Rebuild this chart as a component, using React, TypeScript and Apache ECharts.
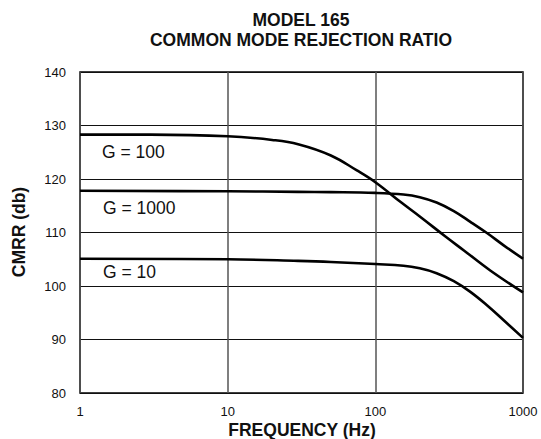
import React, { useEffect, useRef } from "react";
import * as echarts from "echarts";

const freq100 = [1, 3, 10, 20, 30, 50, 75, 100, 150, 200, 300, 400, 600, 1000];
const g100 = [128.3, 128.3, 128.0, 127.3, 126.5, 124.4, 121.6, 119.4, 115.6, 113.0, 109.2, 106.6, 102.9, 98.8];
const freqKnee = [1, 10, 30, 50, 100, 155, 200, 260, 340, 440, 570, 740, 1000];
const g1000 = [117.8, 117.7, 117.6, 117.55, 117.4, 117.1, 116.6, 115.6, 114.0, 112.0, 109.9, 107.6, 105.1];
const g10 = [105.1, 105.0, 104.7, 104.5, 104.1, 103.8, 103.3, 102.4, 100.9, 98.9, 96.4, 93.6, 90.3];
const yTicks = [80, 90, 100, 110, 120, 130, 140];
const curveLabels = ["G = 100", "G = 1000", "G = 10"];
const titleLines = ["MODEL 165", "COMMON MODE REJECTION RATIO"];
const xAxisTitle = "FREQUENCY (Hz)";
const yAxisTitle = "CMRR (db)";

const FONT = "'Liberation Sans', Arial, Helvetica, sans-serif";

function pairs(xs: number[], vals: number[]) {
  return xs.map((f, i) => [f, vals[i]]);
}

export default function App() {
  const ref = useRef<HTMLDivElement>(null);
  useEffect(() => {
    if (!ref.current) return;
    const chart = echarts.init(ref.current, undefined, { renderer: "svg" });
    const lineStyle = { color: "#000", width: 2.6 };
    const seriesBase = {
      type: "line" as const,
      showSymbol: false,
      symbol: "none",
      smooth: 0.4,
      lineStyle,
      silent: true,
    };
    const labelText = (text: string, x: number, y: number) => ({
      type: "text",
      x,
      y,
      style: {
        text,
        align: "left",
        verticalAlign: "middle",
        font: `17.5px ${FONT}`,
        fill: "#111",
      },
    });
    const boldText = (text: string, x: number, y: number, rotation = 0) => ({
      type: "text",
      x,
      y,
      rotation,
      style: {
        text,
        align: "center",
        verticalAlign: "middle",
        font: `bold 17.5px ${FONT}`,
        lineHeight: 17,
        fill: "#111",
      },
    });
    chart.setOption({
      animation: false,
      backgroundColor: "#fff",
      grid: {
        left: 80,
        right: 18,
        top: 72,
        bottom: 46,
        show: true,
        borderColor: "#000",
        borderWidth: 1.5,
        backgroundColor: "transparent",
      },
      xAxis: {
        type: "log",
        logBase: 10,
        min: 1,
        max: 1000,
        axisLine: { show: false },
        axisTick: { show: false },
        splitLine: { show: true, lineStyle: { color: "#555", width: 1.5 } },
        axisLabel: {
          margin: 12,
          fontSize: 13,
          color: "#111",
          fontFamily: FONT,
          formatter: (v: number) => String(v),
        },
      },
      yAxis: {
        type: "value",
        min: yTicks[0],
        max: yTicks[yTicks.length - 1],
        interval: yTicks[1] - yTicks[0],
        axisLine: { show: false },
        axisTick: { show: false },
        splitLine: { show: true, lineStyle: { color: "#111", width: 1 } },
        axisLabel: {
          margin: 14,
          fontSize: 13,
          color: "#111",
          fontFamily: FONT,
        },
      },
      series: [
        { ...seriesBase, name: curveLabels[0], data: pairs(freq100, g100) },
        { ...seriesBase, name: curveLabels[1], data: pairs(freqKnee, g1000) },
        { ...seriesBase, name: curveLabels[2], data: pairs(freqKnee, g10) },
      ],
      graphic: [
        boldText(titleLines[0], 301, 19.5),
        boldText(titleLines[1], 301, 40),
        boldText(xAxisTitle, 302, 429.5),
        boldText(yAxisTitle, 19, 232, Math.PI / 2),
        labelText(curveLabels[0], 102, 152),
        labelText(curveLabels[1], 103, 208),
        labelText(curveLabels[2], 103, 272),
      ],
    });
    return () => chart.dispose();
  }, []);
  return (
    <div
      ref={ref}
      style={{ position: "absolute", left: 0, top: 0, width: 541, height: 439 }}
    />
  );
}
